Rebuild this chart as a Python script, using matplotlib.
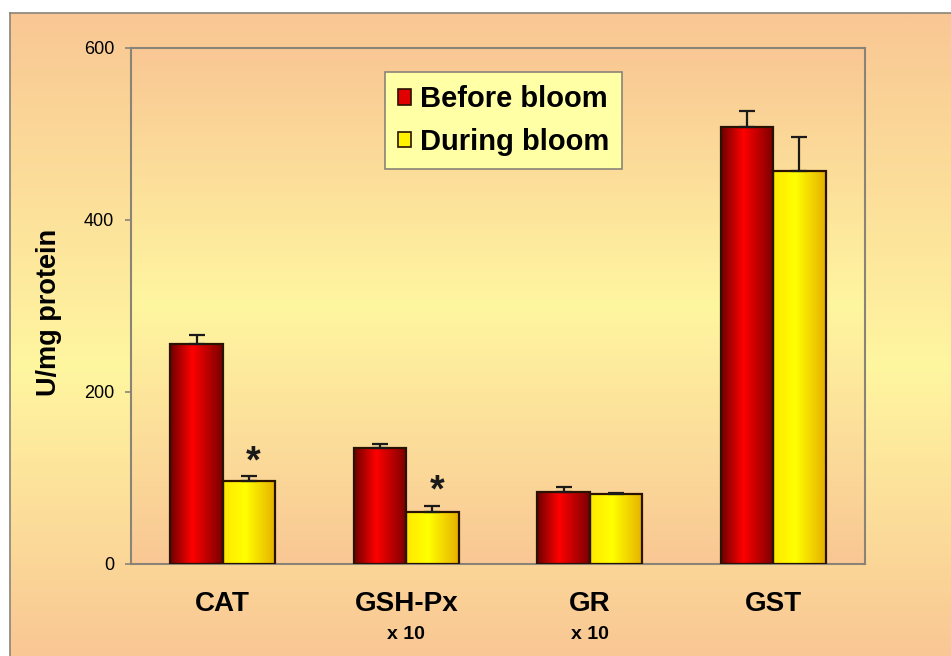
"""Antioxidant enzyme activities before and during the bloom."""
import matplotlib

matplotlib.use("Agg")
import matplotlib.pyplot as plt
import numpy as np
from matplotlib.colors import LinearSegmentedColormap
from matplotlib.patches import Rectangle

plt.rcParams["font.family"] = ["Liberation Sans", "DejaVu Sans"]

# data
enzymes = ["CAT", "GSH-Px", "GR", "GST"]
scale_notes = ["", "x 10", "x 10", ""]
before = [256, 135, 84, 508]
before_err = [10, 4, 5, 19]
during = [97, 60, 81, 457]
during_err = [5, 8, 2, 39]
significant = [True, True, False, False]
series_names = ["Before bloom", "During bloom"]

ORANGE = "#F9C794"
PALE = "#FFF6A0"
GREY = "#8A8478"

W, H = 951, 656
fig = plt.figure(figsize=(W / 100, H / 100), dpi=100)
fig.patch.set_facecolor("white")

bg_cmap = LinearSegmentedColormap.from_list("bg", [ORANGE, PALE, ORANGE])


def vgrad(n=256, peak=0.45):
    t = np.linspace(0, 1, n)
    v = np.where(t < peak, t / peak * 0.5, 0.5 + (t - peak) / (1 - peak) * 0.5)
    return v.reshape(-1, 1)


# outer framed panel
bg = fig.add_axes([10 / W, 0, 1 - 10 / W, 1 - 13 / H])
bg.imshow(vgrad(peak=0.55), aspect="auto", cmap=bg_cmap, extent=(0, 1, 0, 1),
          origin="upper", vmin=0, vmax=1)
bg.set_xlim(0, 1)
bg.set_ylim(0, 1)
bg.set_xticks([])
bg.set_yticks([])
for side in ["right", "bottom"]:
    bg.spines[side].set_visible(False)
for side in ["left", "top"]:
    bg.spines[side].set_color(GREY)
    bg.spines[side].set_linewidth(1.2)

ax = fig.add_axes([131 / W, 92 / H, 734 / W, 516 / H])
ax.imshow(vgrad(peak=0.5), aspect="auto", cmap=bg_cmap, extent=(0, 1, 0, 1),
          origin="upper", vmin=0, vmax=1, transform=ax.transAxes, zorder=0)

red_cmap = LinearSegmentedColormap.from_list(
    "red", [(0, "#6E0000"), (0.42, "#FF0000"), (1, "#7A0000")])
yel_cmap = LinearSegmentedColormap.from_list(
    "yel", [(0, "#FFE800"), (0.42, "#FFFF00"), (1, "#E6B000")])

width = 0.286
x = np.arange(len(enzymes))
hgrad = np.linspace(0, 1, 128).reshape(1, -1)


def gradient_bars(xs, vals, errs, cmap):
    for xi, v, e in zip(xs, vals, errs):
        rect = Rectangle((xi - width / 2, 0), width, v, facecolor="none",
                         edgecolor="#2A1200", linewidth=1.6, zorder=4)
        ax.add_patch(rect)
        im = ax.imshow(hgrad, aspect="auto", cmap=cmap,
                       extent=(xi - width / 2, xi + width / 2, 0, v), zorder=3)
        im.set_clip_path(rect)
        ax.errorbar(xi, v, yerr=[[0], [e]], fmt="none", ecolor="#1A1A1A",
                    elinewidth=1.6, capsize=6, capthick=1.6, zorder=5)


gradient_bars(x - width / 2, before, before_err, red_cmap)
gradient_bars(x + width / 2, during, during_err, yel_cmap)
ax.set_xlim(-0.5, 3.5)
ax.set_ylim(0, 600)

for xi, v, e, sig in zip(x + width / 2, during, during_err, significant):
    if sig:
        ax.annotate("*", xy=(xi, v + e), xytext=(3, -3), textcoords="offset points",
                    ha="center", va="bottom", fontsize=27, fontweight="bold",
                    color="#1A1A1A", zorder=6)

for sp in ax.spines.values():
    sp.set_color(GREY)
    sp.set_linewidth(1.5)
ax.set_yticks([0, 200, 400, 600])
ax.tick_params(axis="y", direction="out", length=4, width=1.2, color=GREY,
               labelsize=13, pad=8)
ax.set_xticks(x)
ax.set_xticklabels([""] * len(enzymes))
ax.tick_params(axis="x", length=0)

for xi, name, note in zip(x, enzymes, scale_notes):
    ax.annotate(name, xy=(xi, 0), xycoords="data", xytext=(0, -29),
                textcoords="offset points", ha="center", va="center",
                fontsize=20, fontweight="bold")
    if note:
        ax.annotate(note, xy=(xi, 0), xycoords="data", xytext=(0, -51),
                    textcoords="offset points", ha="center", va="center",
                    fontsize=14, fontweight="bold")

fig.text(49 / W, 1 - 312 / H, "U/mg protein", rotation=90, ha="center",
         va="center", fontsize=19.5, fontweight="bold")

handles = [
    Rectangle((0, 0), 1, 1, facecolor="#E00000", edgecolor="#2A1200", linewidth=1.2),
    Rectangle((0, 0), 1, 1, facecolor="#FFF200", edgecolor="#2A1200", linewidth=1.2),
]
leg = ax.legend(handles, series_names, loc="upper left",
                bbox_to_anchor=(0.346, 0.953), handlelength=0.45,
                handleheight=0.45, handletextpad=0.3, labelspacing=0.5,
                borderpad=0.45, borderaxespad=0, fancybox=False, framealpha=1,
                prop={"weight": "bold", "size": 21})
leg.get_frame().set_facecolor("#FFFFA6")
leg.get_frame().set_edgecolor(GREY)
leg.get_frame().set_linewidth(1.2)
leg.set_zorder(7)

fig.savefig("out.png", dpi=100)
